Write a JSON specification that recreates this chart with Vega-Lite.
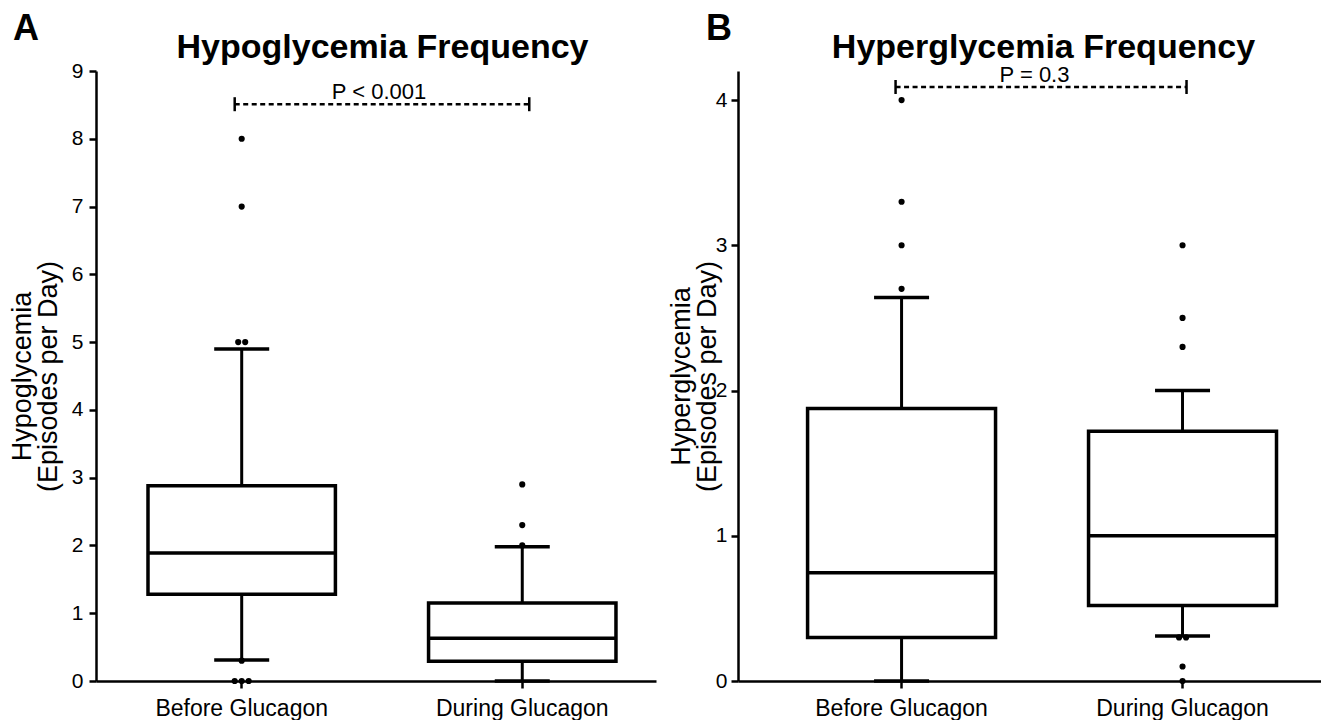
{
  "$schema": "https://vega.github.io/schema/vega-lite/v6.json",
  "background": "white",
  "padding": {"left": 8, "top": 11, "right": 0, "bottom": 0},
  "bounds": "flush",
  "spacing": 82,
  "config": {
    "font": "Liberation Sans",
    "view": {"stroke": null},
    "axis": {
      "grid": false,
      "domainColor": "black",
      "domainWidth": 2.5,
      "tickColor": "black",
      "tickWidth": 2.5,
      "tickSize": 7,
      "labelColor": "black",
      "labelFont": "Liberation Sans",
      "labelFontSize": 21,
      "titleColor": "black",
      "titleFont": "Liberation Sans",
      "titleFontWeight": "normal",
      "titleFontSize": 27
    },
    "title": {"color": "black", "font": "Liberation Sans", "fontWeight": "bold", "fontSize": 36}
  },
  "datasets": {
    "boxes": [
      {"panel": "A", "group": "Before Glucagon", "lo": 0.31, "q1": 1.28, "med": 1.89, "q3": 2.88, "hi": 4.9},
      {"panel": "A", "group": "During Glucagon", "lo": 0, "q1": 0.29, "med": 0.63, "q3": 1.15, "hi": 1.98},
      {"panel": "B", "group": "Before Glucagon", "lo": 0, "q1": 0.3, "med": 0.745, "q3": 1.876, "hi": 2.64},
      {"panel": "B", "group": "During Glucagon", "lo": 0.31, "q1": 0.52, "med": 1.0, "q3": 1.72, "hi": 2.0}
    ],
    "outliers": [
      {"panel": "A", "group": "Before Glucagon", "value": 8, "k": 0},
      {"panel": "A", "group": "Before Glucagon", "value": 7, "k": 0},
      {"panel": "A", "group": "Before Glucagon", "value": 5, "k": -0.5},
      {"panel": "A", "group": "Before Glucagon", "value": 5, "k": 0.5},
      {"panel": "A", "group": "Before Glucagon", "value": 0.3, "k": 0},
      {"panel": "A", "group": "Before Glucagon", "value": 0, "k": -1},
      {"panel": "A", "group": "Before Glucagon", "value": 0, "k": 0},
      {"panel": "A", "group": "Before Glucagon", "value": 0, "k": 1},
      {"panel": "A", "group": "During Glucagon", "value": 2.0, "k": 0},
      {"panel": "A", "group": "During Glucagon", "value": 2.3, "k": 0},
      {"panel": "A", "group": "During Glucagon", "value": 2.9, "k": 0},
      {"panel": "B", "group": "Before Glucagon", "value": 2.7, "k": 0},
      {"panel": "B", "group": "Before Glucagon", "value": 3.0, "k": 0},
      {"panel": "B", "group": "Before Glucagon", "value": 3.3, "k": 0},
      {"panel": "B", "group": "Before Glucagon", "value": 4.0, "k": 0},
      {"panel": "B", "group": "During Glucagon", "value": 3.0, "k": 0},
      {"panel": "B", "group": "During Glucagon", "value": 2.5, "k": 0},
      {"panel": "B", "group": "During Glucagon", "value": 2.3, "k": 0},
      {"panel": "B", "group": "During Glucagon", "value": 0.3, "k": -0.5},
      {"panel": "B", "group": "During Glucagon", "value": 0.3, "k": 0.5},
      {"panel": "B", "group": "During Glucagon", "value": 0.1, "k": 0},
      {"panel": "B", "group": "During Glucagon", "value": 0, "k": 0}
    ],
    "ann": [
      {"panel": "A", "from": "Before Glucagon", "to": "During Glucagon", "y": 8.51, "label": "P < 0.001"},
      {"panel": "B", "from": "Before Glucagon", "to": "During Glucagon", "y": 4.09, "label": "P = 0.3"}
    ]
  },
  "hconcat": [
    {
      "width": 560,
      "height": 610,
      "title": {"text": "A", "anchor": "start", "frame": "group", "dx": -83, "offset": -18},
      "resolve": {"scale": {"xOffset": "independent"}, "axis": {"x": "independent", "y": "independent"}},
      "layer": [
        {
          "data": {"name": "boxes"},
          "transform": [{"filter": "datum.panel == 'A'"}],
          "mark": {"type": "rule", "color": "black", "strokeWidth": 3},
          "encoding": {
            "x": {"field": "group", "type": "nominal",
              "scale": {"domain": ["Before Glucagon", "During Glucagon"], "paddingInner": 0.332, "paddingOuter": 0.164, "align": 0.565},
              "axis": {"orient": "bottom", "title": null, "labelAngle": 0, "labelFontSize": 23, "labelPadding": 9}},
            "y": {"field": "lo", "type": "quantitative",
              "scale": {"domain": [0, 9], "nice": false, "zero": true},
              "axis": {"orient": "left", "title": ["Hypoglycemia", "(Episodes per Day)"], "titleLineHeight": 26, "values": [0, 1, 2, 3, 4, 5, 6, 7, 8, 9], "labelPadding": 6, "titlePadding": 9}},
            "y2": {"field": "hi"}
          }
        },
        {
          "data": {"name": "boxes"},
          "transform": [{"filter": "datum.panel == 'A'"}],
          "mark": {"type": "bar", "fill": "white", "stroke": "black", "strokeWidth": 3.5},
          "encoding": {
            "x": {"field": "group", "type": "nominal",
              "axis": {"orient": "top", "title": "Hypoglycemia Frequency", "labels": false, "ticks": false, "domain": false, "titleFontSize": 34, "titleFontWeight": "bold", "titlePadding": 7, "titleX": 286}},
            "y": {"field": "q1", "type": "quantitative", "axis": null},
            "y2": {"field": "q3"}
          }
        },
        {
          "data": {"name": "boxes"},
          "transform": [{"filter": "datum.panel == 'A'"}],
          "mark": {"type": "bar", "fill": "white", "stroke": "black", "strokeWidth": 3.5},
          "encoding": {
            "x": {"field": "group", "type": "nominal", "axis": null},
            "y": {"field": "med", "type": "quantitative", "axis": null},
            "y2": {"field": "med"}
          }
        },
        {
          "data": {"name": "boxes"},
          "transform": [{"filter": "datum.panel == 'A'"}],
          "mark": {"type": "tick", "color": "black", "size": 55, "thickness": 3.5, "opacity": 1},
          "encoding": {
            "x": {"field": "group", "type": "nominal", "axis": null},
            "y": {"field": "lo", "type": "quantitative", "axis": null}
          }
        },
        {
          "data": {"name": "boxes"},
          "transform": [{"filter": "datum.panel == 'A'"}],
          "mark": {"type": "tick", "color": "black", "size": 55, "thickness": 3.5, "opacity": 1},
          "encoding": {
            "x": {"field": "group", "type": "nominal", "axis": null},
            "y": {"field": "hi", "type": "quantitative", "axis": null}
          }
        },
        {
          "data": {"name": "outliers"},
          "transform": [{"filter": "datum.panel == 'A'"}],
          "mark": {"type": "circle", "color": "black", "size": 38, "opacity": 1},
          "encoding": {
            "x": {"field": "group", "type": "nominal", "axis": null},
            "xOffset": {"field": "k", "type": "quantitative", "scale": {"domain": [-1, 1], "range": [86.7, 100.7], "zero": false, "nice": false}},
            "y": {"field": "value", "type": "quantitative", "axis": null}
          }
        },
        {
          "data": {"name": "ann"},
          "transform": [{"filter": "datum.panel == 'A'"}],
          "mark": {"type": "rule", "color": "black", "strokeWidth": 2.5, "strokeDash": [5, 3.5], "xOffset": -7, "x2Offset": 7},
          "encoding": {
            "x": {"field": "from", "type": "nominal", "axis": null},
            "x2": {"field": "to"},
            "y": {"field": "y", "type": "quantitative", "axis": null}
          }
        },
        {
          "data": {"name": "ann"},
          "transform": [{"filter": "datum.panel == 'A'"}],
          "mark": {"type": "point", "shape": "M0,-1L0,1", "size": 196, "filled": false, "stroke": "black", "strokeWidth": 2.5, "opacity": 1, "xOffset": -7},
          "encoding": {
            "x": {"field": "from", "type": "nominal", "axis": null},
            "y": {"field": "y", "type": "quantitative", "axis": null}
          }
        },
        {
          "data": {"name": "ann"},
          "transform": [{"filter": "datum.panel == 'A'"}],
          "mark": {"type": "point", "shape": "M0,-1L0,1", "size": 196, "filled": false, "stroke": "black", "strokeWidth": 2.5, "opacity": 1, "xOffset": 7},
          "encoding": {
            "x": {"field": "to", "type": "nominal", "axis": null},
            "y": {"field": "y", "type": "quantitative", "axis": null}
          }
        },
        {
          "data": {"name": "ann"},
          "transform": [{"filter": "datum.panel == 'A'"}],
          "mark": {"type": "text", "color": "black", "fontSize": 22, "baseline": "alphabetic", "align": "center", "dy": -5, "dx": 3},
          "encoding": {
            "y": {"field": "y", "type": "quantitative", "axis": null},
            "text": {"field": "label"}
          }
        }
      ]
    },
    {
      "width": 583,
      "height": 610,
      "title": {"text": "B", "anchor": "start", "frame": "group", "dx": -32, "offset": -18},
      "resolve": {"scale": {"xOffset": "independent"}, "axis": {"x": "independent", "y": "independent"}},
      "layer": [
        {
          "data": {"name": "boxes"},
          "transform": [{"filter": "datum.panel == 'B'"}],
          "mark": {"type": "rule", "color": "black", "strokeWidth": 3},
          "encoding": {
            "x": {"field": "group", "type": "nominal",
              "scale": {"domain": ["Before Glucagon", "During Glucagon"], "paddingInner": 0.331, "paddingOuter": 0.203, "align": 0.61},
              "axis": {"orient": "bottom", "title": null, "labelAngle": 0, "labelFontSize": 23, "labelPadding": 9}},
            "y": {"field": "lo", "type": "quantitative",
              "scale": {"domain": [0, 4.2], "nice": false, "zero": true},
              "axis": {"orient": "left", "title": ["Hyperglycemia", "(Episodes per Day)"], "titleLineHeight": 26, "values": [0, 1, 2, 3, 4], "labelPadding": 4, "titlePadding": -6}},
            "y2": {"field": "hi"}
          }
        },
        {
          "data": {"name": "boxes"},
          "transform": [{"filter": "datum.panel == 'B'"}],
          "mark": {"type": "bar", "fill": "white", "stroke": "black", "strokeWidth": 3.5},
          "encoding": {
            "x": {"field": "group", "type": "nominal",
              "axis": {"orient": "top", "title": "Hyperglycemia Frequency", "labels": false, "ticks": false, "domain": false, "titleFontSize": 34, "titleFontWeight": "bold", "titlePadding": 7, "titleX": 305}},
            "y": {"field": "q1", "type": "quantitative", "axis": null},
            "y2": {"field": "q3"}
          }
        },
        {
          "data": {"name": "boxes"},
          "transform": [{"filter": "datum.panel == 'B'"}],
          "mark": {"type": "bar", "fill": "white", "stroke": "black", "strokeWidth": 3.5},
          "encoding": {
            "x": {"field": "group", "type": "nominal", "axis": null},
            "y": {"field": "med", "type": "quantitative", "axis": null},
            "y2": {"field": "med"}
          }
        },
        {
          "data": {"name": "boxes"},
          "transform": [{"filter": "datum.panel == 'B'"}],
          "mark": {"type": "tick", "color": "black", "size": 55, "thickness": 3.5, "opacity": 1},
          "encoding": {
            "x": {"field": "group", "type": "nominal", "axis": null},
            "y": {"field": "lo", "type": "quantitative", "axis": null}
          }
        },
        {
          "data": {"name": "boxes"},
          "transform": [{"filter": "datum.panel == 'B'"}],
          "mark": {"type": "tick", "color": "black", "size": 55, "thickness": 3.5, "opacity": 1},
          "encoding": {
            "x": {"field": "group", "type": "nominal", "axis": null},
            "y": {"field": "hi", "type": "quantitative", "axis": null}
          }
        },
        {
          "data": {"name": "outliers"},
          "transform": [{"filter": "datum.panel == 'B'"}],
          "mark": {"type": "circle", "color": "black", "size": 38, "opacity": 1},
          "encoding": {
            "x": {"field": "group", "type": "nominal", "axis": null},
            "xOffset": {"field": "k", "type": "quantitative", "scale": {"domain": [-1, 1], "range": [87, 101], "zero": false, "nice": false}},
            "y": {"field": "value", "type": "quantitative", "axis": null}
          }
        },
        {
          "data": {"name": "ann"},
          "transform": [{"filter": "datum.panel == 'B'"}],
          "mark": {"type": "rule", "color": "black", "strokeWidth": 2.5, "strokeDash": [5, 3.5], "xOffset": -6, "x2Offset": 4},
          "encoding": {
            "x": {"field": "from", "type": "nominal", "axis": null},
            "x2": {"field": "to"},
            "y": {"field": "y", "type": "quantitative", "axis": null}
          }
        },
        {
          "data": {"name": "ann"},
          "transform": [{"filter": "datum.panel == 'B'"}],
          "mark": {"type": "point", "shape": "M0,-1L0,1", "size": 196, "filled": false, "stroke": "black", "strokeWidth": 2.5, "opacity": 1, "xOffset": -6},
          "encoding": {
            "x": {"field": "from", "type": "nominal", "axis": null},
            "y": {"field": "y", "type": "quantitative", "axis": null}
          }
        },
        {
          "data": {"name": "ann"},
          "transform": [{"filter": "datum.panel == 'B'"}],
          "mark": {"type": "point", "shape": "M0,-1L0,1", "size": 196, "filled": false, "stroke": "black", "strokeWidth": 2.5, "opacity": 1, "xOffset": 4},
          "encoding": {
            "x": {"field": "to", "type": "nominal", "axis": null},
            "y": {"field": "y", "type": "quantitative", "axis": null}
          }
        },
        {
          "data": {"name": "ann"},
          "transform": [{"filter": "datum.panel == 'B'"}],
          "mark": {"type": "text", "color": "black", "fontSize": 22, "baseline": "alphabetic", "align": "center", "dy": -5, "dx": 5},
          "encoding": {
            "y": {"field": "y", "type": "quantitative", "axis": null},
            "text": {"field": "label"}
          }
        }
      ]
    }
  ]
}
